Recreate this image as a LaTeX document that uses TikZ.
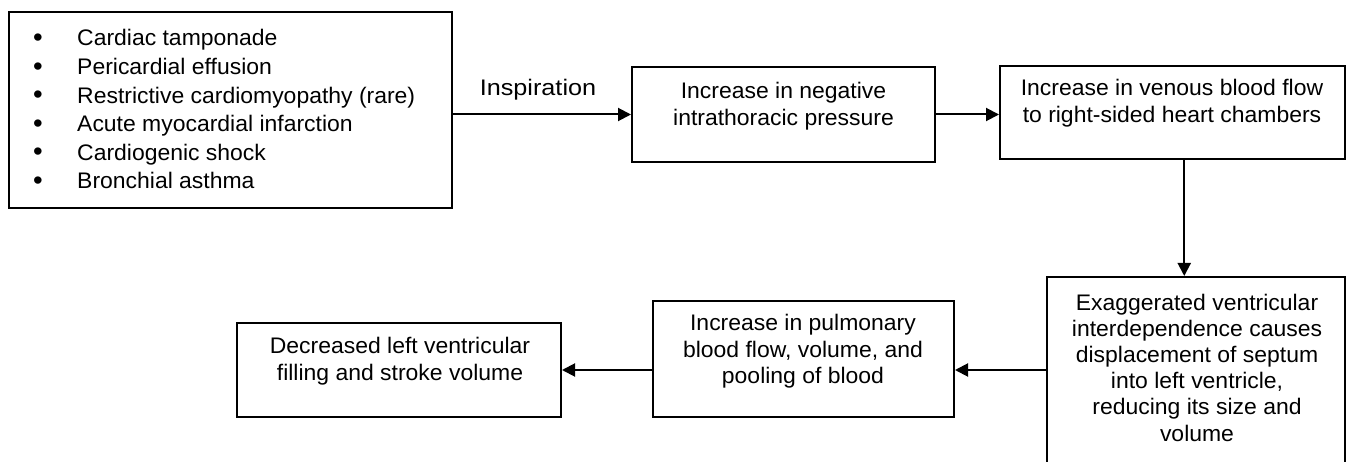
\documentclass[tikz,border=0pt]{standalone}
\usepackage{fontspec}
\setmainfont{Liberation Sans}
\newfontfamily\fA[FakeStretch=1.02]{Liberation Sans}
\newfontfamily\fI[FakeStretch=1.12]{Liberation Sans}
\usetikzlibrary{arrows.meta,calc}
\newcommand{\bul}{\makebox[44pt][l]{\raisebox{-0.5pt}{\fontsize{27}{27}\selectfont•}}}
\begin{document}
\begin{tikzpicture}[x=1pt,y=-1pt,
  box/.style={draw, line width=2pt, inner sep=0pt},
  arr/.style={line width=2pt, -{Triangle[length=13pt,width=13pt]}},
  txt/.style={align=center, inner sep=0pt, font=\fA\fontsize{22.5}{27}\selectfont}]
\clip (0,0) rectangle (1347,462);
\fill[white] (0,0) rectangle (1347,462);
% boxes
\node[box, minimum width=443pt, minimum height=196pt] (b1) at (230.5,110) {};
\node[box, minimum width=303pt, minimum height=95pt] (b2) at (783.5,114.5) {};
\node[box, minimum width=345pt, minimum height=93pt] (b3) at (1172.5,112.5) {};
\node[box, minimum width=298pt, minimum height=223pt] (b4) at (1196,388.5) {};
\node[box, minimum width=301pt, minimum height=116pt] (b5) at (803.5,359) {};
\node[box, minimum width=324pt, minimum height=94pt] (b6) at (399,370) {};
% texts
\node[inner sep=0pt, anchor=west, align=left, font=\fA\fontsize{22.5}{28.6}\selectfont] (t1) at (33,109.5)
  {\bul Cardiac tamponade\\
   \bul Pericardial effusion\\
   \bul Restrictive cardiomyopathy (rare)\\
   \bul Acute myocardial infarction\\
   \bul Cardiogenic shock\\
   \bul Bronchial asthma};
\node[txt] (t2) at (783.5,106.5) {Increase in negative\\intrathoracic pressure};
\node[txt] (t3) at (1172,103.5) {Increase in venous blood flow\\to right-sided heart chambers};
\node[txt, font=\fA\fontsize{22.5}{26.2}\selectfont] (t4) at (1197,367.5) {Exaggerated ventricular\\interdependence causes\\displacement of septum\\into left ventricle,\\reducing its size and\\volume};
\node[txt, font=\fA\fontsize{22.5}{26.5}\selectfont] (t5) at (803,351.5) {Increase in pulmonary\\blood flow, volume, and\\pooling of blood};
\node[txt] (t6) at (400,361.5) {Decreased left ventricular\\filling and stroke volume};
\node[inner sep=0pt, font=\fI\fontsize{22.5}{25}\selectfont] (lab) at (538,90) {Inspiration};
% connectors
\draw[arr] (b1.east |- b2.west) -- (b2.west);
\draw[arr] (b2.east) -- (b3.west |- b2.east);
\coordinate (vx) at ($(b3.south)!0.5!(b4.north)$);
\draw[arr] (b3.south -| vx) -- (b4.north -| vx);
\draw[arr] (b4.west |- b6.east) -- (b5.east |- b6.east);
\draw[arr] (b5.west |- b6.east) -- (b6.east);
\end{tikzpicture}
\end{document}
